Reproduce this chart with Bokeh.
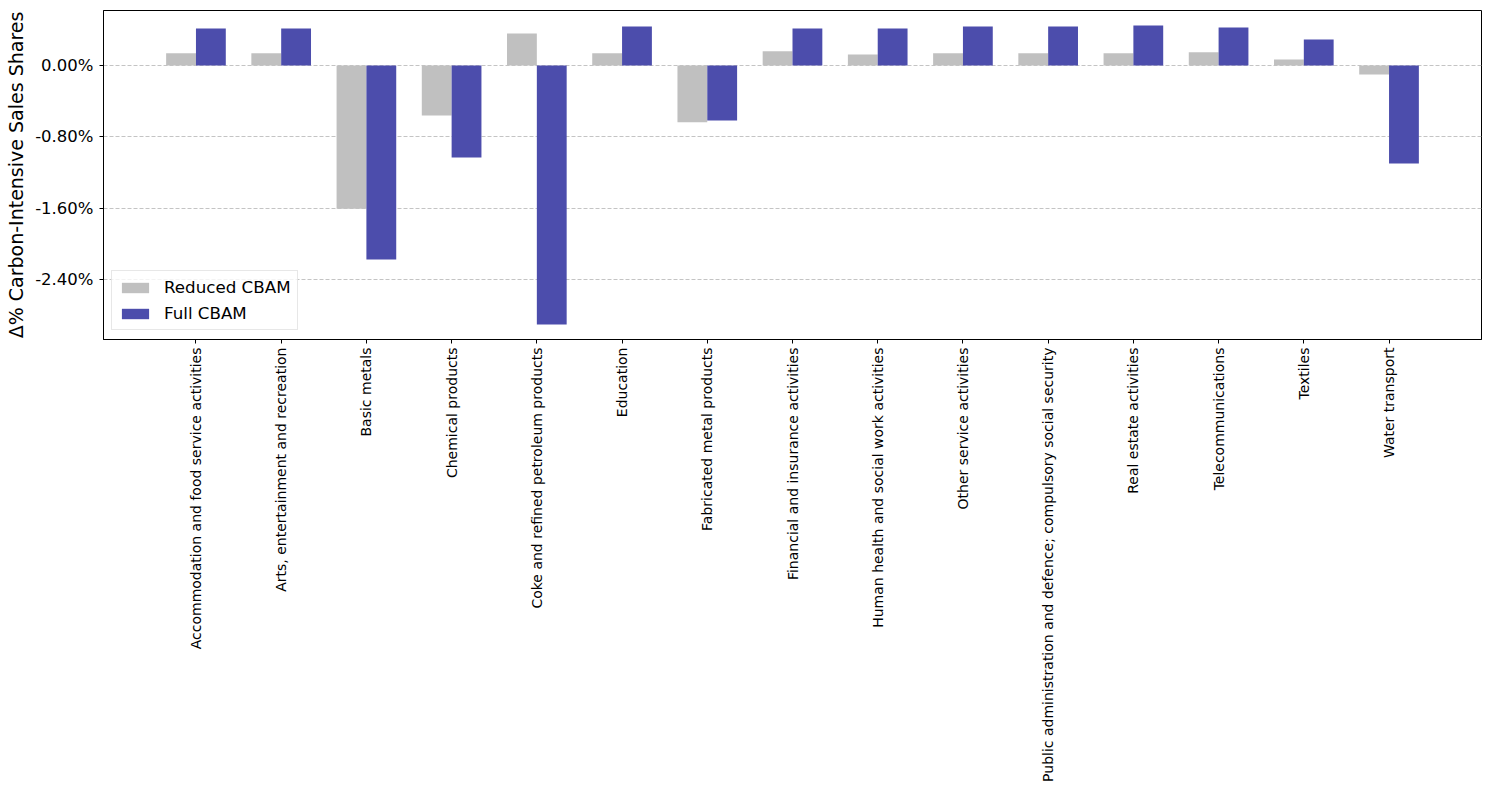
import numpy as np
from bokeh.plotting import figure
from bokeh.models import (Range1d, FixedTicker, PrintfTickFormatter, Legend, LegendItem)
from bokeh.embed import file_html
from bokeh.resources import INLINE

categories = [
    "Accommodation and food service activities",
    "Arts, entertainment and recreation",
    "Basic metals",
    "Chemical products",
    "Coke and refined petroleum products",
    "Education",
    "Fabricated metal products",
    "Financial and insurance activities",
    "Human health and social work activities",
    "Other service activities",
    "Public administration and defence; compulsory social security",
    "Real estate activities",
    "Telecommunications",
    "Textiles",
    "Water transport",
]
reduced_cbam = [0.138, 0.138, -1.605, -0.56, 0.358, 0.138, -0.635, 0.16, 0.123, 0.138, 0.138, 0.138, 0.149, 0.067, -0.10]
full_cbam = [0.414, 0.414, -2.172, -1.03, -2.90, 0.437, -0.616, 0.414, 0.414, 0.437, 0.437, 0.448, 0.426, 0.291, -1.097]
y_ticks = [-2.4, -1.6, -0.8, 0.0]

FONT = "DejaVu Sans"
bar_w = 0.35
idx = np.arange(len(categories))

lo = min(min(reduced_cbam), min(full_cbam), 0)
hi = max(max(reduced_cbam), max(full_cbam), 0)
pad = 0.05 * (hi - lo)
xlo = -bar_w
xhi = len(categories) - 1 + bar_w
xpad = 0.05 * (xhi - xlo)

p = figure(frame_width=1378, frame_height=329, output_backend="svg", toolbar_location=None,
           x_range=Range1d(xlo - xpad, xhi + xpad), y_range=Range1d(lo - pad, hi + pad),
           min_border_left=103, min_border_right=1, min_border_top=10, min_border_bottom=5)

r1 = p.vbar(x=idx - bar_w / 2, top=reduced_cbam, width=bar_w, bottom=0,
            fill_color="#C0C0C0", line_color=None)
r2 = p.vbar(x=idx + bar_w / 2, top=full_cbam, width=bar_w, bottom=0,
            fill_color="#4C4DAC", line_color=None)

p.xgrid.visible = False
p.ygrid.grid_line_color = "#c4c4c4"
p.ygrid.grid_line_dash = "4 2"
p.ygrid.grid_line_width = 1
p.ygrid.ticker = FixedTicker(ticks=y_ticks)

p.outline_line_color = "black"
p.outline_line_width = 1

xa = p.xaxis[0]
xa.ticker = FixedTicker(ticks=list(idx))
xa.major_label_overrides = {int(i): c for i, c in zip(idx, categories)}
xa.major_label_orientation = np.pi / 2
xa.major_label_text_font = FONT
xa.major_label_text_font_size = "14px"
xa.major_label_text_color = "black"
xa.major_tick_out = 4
xa.major_tick_in = 0
xa.minor_tick_out = 0
xa.minor_tick_in = 0
xa.major_label_standoff = 4
xa.axis_line_color = "black"

ya = p.yaxis[0]
ya.ticker = FixedTicker(ticks=y_ticks)
ya.formatter = PrintfTickFormatter(format="%.2f%%")
ya.major_label_text_font = FONT
ya.major_label_text_font_size = "16.5px"
ya.major_label_text_color = "black"
ya.major_tick_out = 4
ya.major_tick_in = 0
ya.minor_tick_out = 0
ya.minor_tick_in = 0
ya.major_label_standoff = 6
ya.axis_line_color = "black"
ya.axis_label = "Δ% Carbon-Intensive Sales Shares"
ya.axis_label_text_font = FONT
ya.axis_label_text_font_size = "19px"
ya.axis_label_text_font_style = "normal"
ya.axis_label_text_color = "black"
ya.axis_label_standoff = 5

legend = Legend(items=[LegendItem(label="Reduced CBAM", renderers=[r1]),
                       LegendItem(label="Full CBAM", renderers=[r2])],
                location=(8, 9), margin=0, padding=6, spacing=6,
                glyph_width=34, glyph_height=13, label_height=20, label_standoff=12,
                label_text_font=FONT, label_text_font_size="16.7px", label_text_color="black",
                border_line_color="#d0d0d0", border_line_width=1,
                background_fill_alpha=0.8)
p.add_layout(legend, "center")

open("out.html", "w").write(file_html(p, INLINE))
